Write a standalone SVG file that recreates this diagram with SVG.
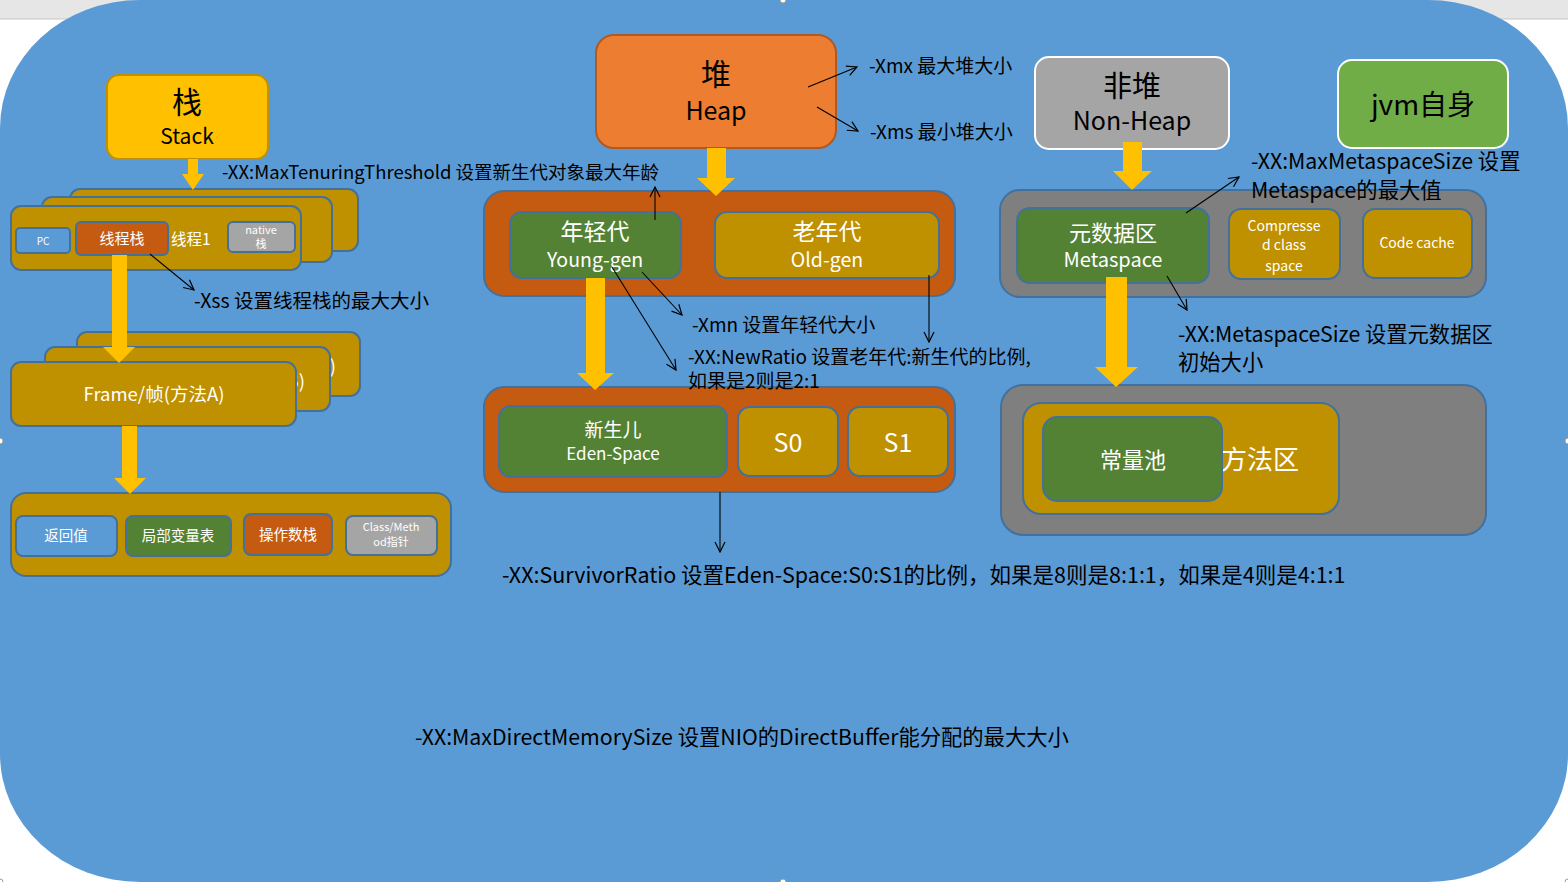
<svg xmlns="http://www.w3.org/2000/svg" width="1568" height="882" viewBox="0 0 1568 882">
  <defs>
    <marker id="open-arrow" viewBox="0 0 12 12" refX="11" refY="6" markerWidth="12" markerHeight="12" markerUnits="userSpaceOnUse" orient="auto">
      <path d="M1,1 L11,6 L1,11" fill="none" stroke="#000" stroke-width="1.2"/>
    </marker>
    <clipPath id="clip-frame-c"><rect x="296" y="332" width="64" height="64"/></clipPath>
    <clipPath id="clip-frame-b"><rect x="280" y="347" width="50" height="64"/></clipPath>
    <style>
      text { font-family: "Noto Sans CJK SC", "Noto Sans", sans-serif; }
      .wt { fill: #ffffff; text-anchor: middle; }
      .bk { fill: #000000; text-anchor: middle; }
      .note { fill: #000000; }
      .inner { stroke: #41719C; stroke-width: 2; }
      .gold { fill: #BF9000; }
      .green { fill: #548235; }
      .rust { fill: #C55A11; }
      .grey { fill: #A5A5A5; }
      .blue { fill: #5B9BD5; }
      .dark { fill: #7F7F7F; }
      .yel { fill: #FFC000; }
      .thin { stroke: #000; stroke-width: 1.1; fill: none; marker-end: url(#open-arrow); }
      .handle { fill: #ffffff; stroke: #9a9a9a; stroke-width: 1; }
    </style>
  </defs>

  <!-- canvas and the rounded backdrop -->
  <rect x="0" y="0" width="1568" height="882" fill="#ffffff"/>
  <rect x="0" y="0" width="1568" height="19" fill="#E6E6E6"/>
  <line x1="0" y1="19" x2="1568" y2="19" stroke="#C6C6C6" stroke-width="1"/>
  <rect x="0" y="0" width="1568" height="882" rx="140" ry="128" fill="#5B9BD5"/>
  <circle class="handle" cx="783" cy="0" r="3"/>
  <circle class="handle" cx="0" cy="441" r="3"/>
  <circle class="handle" cx="1568" cy="441" r="3"/>
  <circle class="handle" cx="783" cy="882" r="3"/>
  <circle class="handle" cx="0" cy="882" r="3"/>
  <circle class="handle" cx="1568" cy="882" r="3"/>

  <!-- ===== Stack column ===== -->
  <g id="stack">
    <rect x="107" y="75" width="161" height="84" rx="12" fill="#FFC000" stroke="#BF9000" stroke-width="2"/>
    <text class="bk" x="187" y="113" font-size="30">栈</text>
    <text class="bk" x="187" y="144" font-size="21">Stack</text>
  </g>

  <g id="threads">
    <rect class="gold inner" x="70" y="189" width="288" height="62" rx="10"/>
    <rect class="gold inner" x="42" y="197" width="290" height="65" rx="10"/>
    <rect class="gold inner" x="11" y="206" width="290" height="64" rx="10"/>
    <g id="pc">
      <rect class="blue inner" x="16" y="228" width="54" height="25" rx="4"/>
      <text class="wt" x="43" y="245" font-size="10">PC</text>
    </g>
    <g id="thread-stack">
      <rect class="rust inner" x="76" y="222" width="92" height="33" rx="5"/>
      <text class="wt" x="122" y="244" font-size="15">线程栈</text>
    </g>
    <text x="171" y="245" font-size="15.5" fill="#ffffff">线程1</text>
    <g id="native-stack">
      <rect class="grey inner" x="228" y="222" width="67" height="30" rx="5"/>
      <text class="wt" x="261" y="234" font-size="11">native</text>
      <text class="wt" x="261" y="248" font-size="11">栈</text>
    </g>
  </g>

  <!-- stacked frames: only the tails of the back labels peek out -->
  <g id="frames">
    <rect class="gold inner" x="77" y="332" width="283" height="64" rx="10"/>
    <text x="336" y="373" font-size="18.5" fill="#ffffff" text-anchor="end" clip-path="url(#clip-frame-c)">Frame/帧(方法C)</text>
    <rect class="gold inner" x="45" y="347" width="285" height="64" rx="10"/>
    <text x="305" y="388" font-size="18.5" fill="#ffffff" text-anchor="end" clip-path="url(#clip-frame-b)">Frame/帧(方法B)</text>
    <rect class="gold inner" x="11" y="362" width="285" height="64" rx="10"/>
    <text class="wt" x="154" y="401" font-size="18.5">Frame/帧(方法A)</text>
  </g>

  <g id="frame-detail">
    <rect class="gold inner" x="11" y="493" width="440" height="83" rx="15"/>
    <g id="return-value">
      <rect class="blue inner" x="16" y="516" width="101" height="40" rx="7"/>
      <text class="wt" x="66" y="541" font-size="14.5">返回值</text>
    </g>
    <g id="local-vars">
      <rect class="green inner" x="126" y="516" width="105" height="40" rx="7"/>
      <text class="wt" x="178" y="541" font-size="14.5">局部变量表</text>
    </g>
    <g id="operand-stack">
      <rect class="rust inner" x="244" y="514" width="88" height="41" rx="7"/>
      <text class="wt" x="288" y="540" font-size="14.5">操作数栈</text>
    </g>
    <g id="class-method-ptr">
      <rect class="grey inner" x="346" y="516" width="91" height="39" rx="7"/>
      <text class="wt" x="391" y="531" font-size="11">Class/Meth</text>
      <text class="wt" x="391" y="546" font-size="11">od指针</text>
    </g>
  </g>

  <!-- ===== Heap column ===== -->
  <g id="heap">
    <rect x="596" y="35" width="240" height="113" rx="18" fill="#ED7D31" stroke="#AE5A21" stroke-width="2"/>
    <text class="bk" x="716" y="85" font-size="30">堆</text>
    <text class="bk" x="716" y="120" font-size="25">Heap</text>
  </g>

  <g id="generations">
    <rect class="rust inner" x="484" y="191" width="471" height="105" rx="20"/>
    <g id="young-gen">
      <rect class="green inner" x="510" y="212" width="171" height="66" rx="12"/>
      <text class="wt" x="595" y="240" font-size="23">年轻代</text>
      <text class="wt" x="595" y="267" font-size="19.5">Young-gen</text>
    </g>
    <g id="old-gen">
      <rect class="gold inner" x="715" y="212" width="224" height="66" rx="12"/>
      <text class="wt" x="827" y="240" font-size="23">老年代</text>
      <text class="wt" x="827" y="267" font-size="19.5">Old-gen</text>
    </g>
  </g>

  <g id="young-spaces">
    <rect class="rust inner" x="484" y="387" width="471" height="105" rx="20"/>
    <g id="eden">
      <rect class="green inner" x="499" y="406" width="228" height="71" rx="12"/>
      <text class="wt" x="613" y="437" font-size="19">新生儿</text>
      <text class="wt" x="613" y="460" font-size="17">Eden-Space</text>
    </g>
    <g id="s0">
      <rect class="gold inner" x="738" y="407" width="100" height="69" rx="12"/>
      <text class="wt" x="788" y="452" font-size="25">S0</text>
    </g>
    <g id="s1">
      <rect class="gold inner" x="848" y="407" width="100" height="69" rx="12"/>
      <text class="wt" x="898" y="452" font-size="25">S1</text>
    </g>
  </g>

  <!-- ===== Non-heap column ===== -->
  <g id="non-heap">
    <rect x="1035" y="57" width="194" height="92" rx="14" fill="#A5A5A5" stroke="#ffffff" stroke-width="2"/>
    <text class="bk" x="1132" y="97" font-size="29">非堆</text>
    <text class="bk" x="1132" y="130" font-size="25">Non-Heap</text>
  </g>

  <g id="jvm-self">
    <rect x="1338" y="60" width="170" height="88" rx="14" fill="#70AD47" stroke="#ffffff" stroke-width="2"/>
    <text class="bk" x="1423" y="115" font-size="28">jvm自身</text>
  </g>

  <g id="meta-region">
    <rect class="dark inner" x="1000" y="190" width="486" height="107" rx="20"/>
    <g id="metaspace">
      <rect class="green inner" x="1017" y="208" width="192" height="75" rx="13"/>
      <text class="wt" x="1113" y="241" font-size="22">元数据区</text>
      <text class="wt" x="1113" y="267" font-size="20">Metaspace</text>
    </g>
    <g id="compressed-class">
      <rect class="gold inner" x="1229" y="209" width="111" height="70" rx="12"/>
      <text class="wt" x="1284" y="231" font-size="14">Compresse</text>
      <text class="wt" x="1284" y="250" font-size="14">d class</text>
      <text class="wt" x="1284" y="271" font-size="14">space</text>
    </g>
    <g id="code-cache">
      <rect class="gold inner" x="1363" y="209" width="109" height="69" rx="12"/>
      <text class="wt" x="1417" y="248" font-size="14">Code cache</text>
    </g>
  </g>

  <g id="method-region">
    <rect class="dark inner" x="1001" y="385" width="485" height="150" rx="22"/>
    <g id="method-area">
      <rect class="gold inner" x="1023" y="403" width="316" height="111" rx="18"/>
      <text x="1221" y="469" font-size="26" fill="#ffffff">方法区</text>
    </g>
    <g id="constant-pool">
      <rect class="green inner" x="1043" y="417" width="179" height="84" rx="14"/>
      <text class="wt" x="1133" y="468" font-size="22">常量池</text>
    </g>
  </g>

  <!-- ===== Connectors ===== -->
  <g id="connectors">
    <!-- block arrows -->
    <polygon class="yel" points="188,159 198,159 198,174 204,174 193,190 182,174 188,174"/>
    <polygon class="yel" points="112,255 127,255 127,347 135,347 119,363 103,347 112,347"/>
    <polygon class="yel" points="122,426 137,426 137,478 146,478 130,494 114,478 122,478"/>
    <polygon class="yel" points="707,148 726,148 726,178 735,178 716,196 697,178 707,178"/>
    <polygon class="yel" points="586,278 605,278 605,373 614,373 595,390 577,373 586,373"/>
    <polygon class="yel" points="1123,142 1142,142 1142,171 1152,171 1132,190 1113,171 1123,171"/>
    <polygon class="yel" points="1106,277 1127,277 1127,367 1138,367 1116,387 1095,367 1106,367"/>

    <!-- option pointers -->
    <line class="thin" x1="150" y1="254" x2="194" y2="290"/>
    <line class="thin" x1="808" y1="87" x2="857" y2="67"/>
    <line class="thin" x1="817" y1="107" x2="858" y2="131"/>
    <line class="thin" x1="655" y1="220" x2="655" y2="187"/>
    <line class="thin" x1="642" y1="272" x2="682" y2="315"/>
    <line class="thin" x1="612" y1="267" x2="676" y2="370"/>
    <line class="thin" x1="929" y1="275" x2="929" y2="342"/>
    <line class="thin" x1="720" y1="492" x2="720" y2="552"/>
    <line class="thin" x1="1186" y1="213" x2="1239" y2="177"/>
    <line class="thin" x1="1167" y1="276" x2="1187" y2="310"/>
  </g>

  <!-- ===== Option notes ===== -->
  <g id="notes">
    <text class="note" x="222" y="179" font-size="18.5">-XX:MaxTenuringThreshold 设置新生代对象最大年龄</text>
    <text class="note" x="194" y="308" font-size="19.5">-Xss 设置线程栈的最大大小</text>
    <text class="note" x="869" y="73" font-size="19">-Xmx 最大堆大小</text>
    <text class="note" x="870" y="139" font-size="19">-Xms 最小堆大小</text>
    <text class="note" x="692" y="332" font-size="19">-Xmn 设置年轻代大小</text>
    <text class="note" x="688" y="364" font-size="19">-XX:NewRatio 设置老年代:新生代的比例,</text>
    <text class="note" x="688" y="388" font-size="19">如果是2则是2:1</text>
    <text class="note" x="502" y="583" font-size="21.5">-XX:SurvivorRatio 设置Eden-Space:S0:S1的比例，如果是8则是8:1:1，如果是4则是4:1:1</text>
    <text class="note" x="1251" y="169" font-size="21.3">-XX:MaxMetaspaceSize 设置</text>
    <text class="note" x="1251" y="198" font-size="21.3">Metaspace的最大值</text>
    <text class="note" x="1178" y="342" font-size="21.3">-XX:MetaspaceSize 设置元数据区</text>
    <text class="note" x="1178" y="370" font-size="21.3">初始大小</text>
    <text class="note" x="415" y="745" font-size="21.3">-XX:MaxDirectMemorySize 设置NIO的DirectBuffer能分配的最大大小</text>
  </g>
</svg>
